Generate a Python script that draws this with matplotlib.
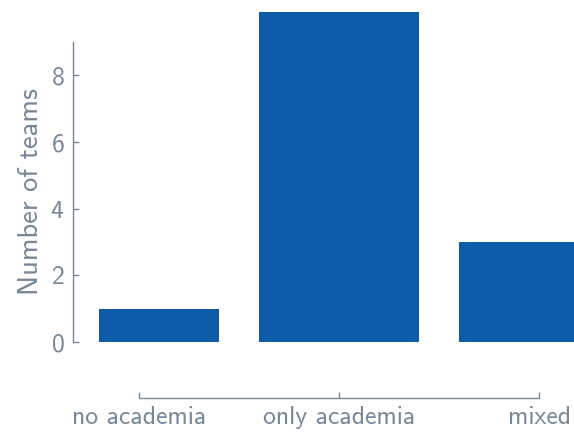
import numpy as np
import matplotlib.pyplot as plt

# data
categories = ['no academia', 'only academia', 'mixed']
counts = [1, 10, 3]

text_color = '#778899'
bar_color = '#0e5ca7'

plt.rcParams['font.family'] = ['cmss10', 'DejaVu Sans']
plt.rcParams['axes.formatter.use_mathtext'] = True
plt.rcParams['font.size'] = 18.5

fig = plt.figure(figsize=(5.74, 4.37), dpi=100)
ax = fig.add_axes([99 / 574, 1 - 342 / 437, 1 - 99 / 574, 330 / 437])

x = np.arange(len(categories))
ax.bar(x, counts, width=0.8, color=bar_color)

ax.set_xlim(-0.2, 2.175)
ax.set_ylim(0, 9.9)
ax.set_xticks(x)
ax.set_xticklabels(categories)
ax.set_yticks([0, 2, 4, 6, 8])
ax.set_ylabel('Number of teams', color=text_color, labelpad=5.5, fontsize=20.5)
# label centred on the trimmed spine (0..9)
ax.yaxis.label.set_y(4.5 / 9.9)

# despined, offset axes
for side in ['top', 'right']:
    ax.spines[side].set_visible(False)
ax.spines['left'].set_position(('outward', 19))
ax.spines['bottom'].set_position(('outward', 40))
ax.spines['left'].set_bounds(0, 9)
ax.spines['bottom'].set_bounds(0, 2)
for side in ['left', 'bottom']:
    ax.spines[side].set_color(text_color)
    ax.spines[side].set_linewidth(1.0)

ax.tick_params(direction='in', length=4.5, width=1.0, color=text_color,
               labelcolor=text_color, pad=6)

fig.savefig('out.png', dpi=100)
